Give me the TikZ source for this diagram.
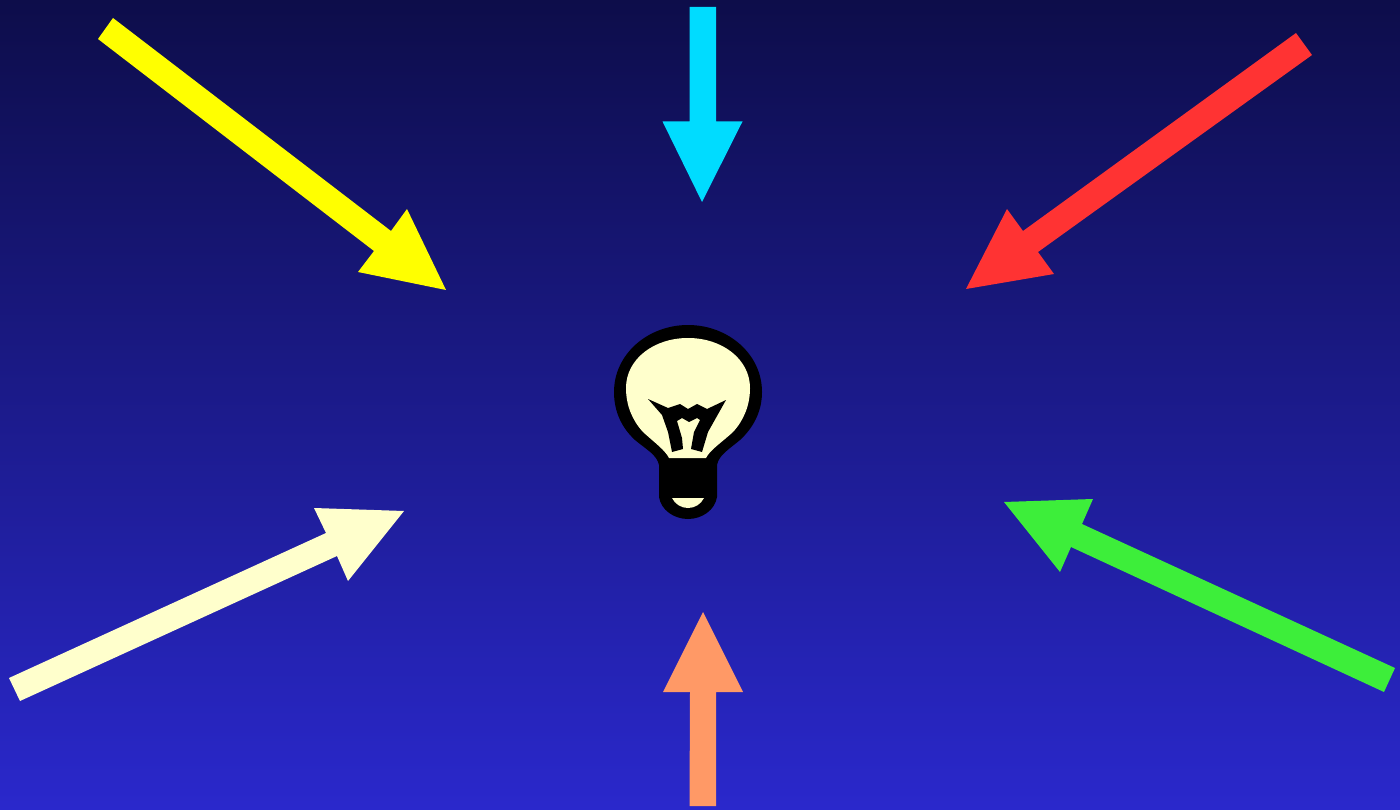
\documentclass[tikz,border=0pt]{standalone}
\definecolor{bgtop}{HTML}{0D0D4A}
\definecolor{bgbot}{HTML}{2A28CC}
\definecolor{cream}{HTML}{FFFFCC}
\definecolor{acyan}{HTML}{00DCFF}
\definecolor{ared}{HTML}{FF3333}
\definecolor{agreen}{HTML}{3DEE3A}
\definecolor{aorange}{HTML}{FF9966}
\definecolor{ayellow}{HTML}{FFFF00}
\begin{document}
\begin{tikzpicture}[x=1pt,y=-1pt]
\useasboundingbox (0,0) rectangle (1400,810);
\shade[top color=bgtop,bottom color=bgbot] (0,0) rectangle (1400,810);
% arrows
\fill[ayellow] (113,18) -- (391,231) -- (407,209) -- (446,290) -- (358,272) -- (374,251) -- (98,39) -- cycle;
\fill[acyan] (689.5,7) -- (716,7) -- (716,121.5) -- (742.5,121.5) -- (702,202) -- (662.5,121.5) -- (689.5,121.5) -- cycle;
\fill[ared] (1296,33) -- (1312,55) -- (1038,252) -- (1054,274) -- (966,289) -- (1007,209) -- (1023,231) -- cycle;
\fill[cream] (9,678) -- (326,533) -- (314,508) -- (404,511) -- (348,581) -- (337,556) -- (20,701) -- cycle;
\fill[agreen] (1395,668) -- (1082,524) -- (1093,499) -- (1004,502) -- (1060,572) -- (1071,547) -- (1384,692) -- cycle;
\fill[aorange] (689.5,806) -- (716,806) -- (716,692) -- (743,692) -- (703,612) -- (663,692) -- (690,692) -- cycle;
% bulb
\fill[black] (659,497) -- (659,465) .. controls (657,455) and (647,450) .. (635,440)
  .. controls (622,428) and (614,412) .. (614,392)
  .. controls (614,354) and (648,325) .. (688,325)
  .. controls (728,325) and (762,354) .. (762,392)
  .. controls (762,412) and (753,428) .. (740,440)
  .. controls (728,450) and (719,455) .. (717,465)
  -- (717,497) .. controls (715,510) and (702,519) .. (688,519)
  .. controls (674,519) and (661,510) .. (659,497) -- cycle;
\fill[cream] (669,458) .. controls (665,450) and (655,443) .. (643,432)
  .. controls (632,420) and (626,405) .. (626,388)
  .. controls (626,359) and (654,338) .. (688,338)
  .. controls (722,338) and (750,359) .. (750,388)
  .. controls (750,405) and (744,420) .. (733,432)
  .. controls (721,443) and (710,450) .. (706,458) -- cycle;
\fill[black] (648,399) -- (668,408) -- (680,404) -- (688,409) -- (697,404) -- (707,409) -- (726,400)
  -- (708,432) -- (702,452) -- (691,449) -- (694,432) -- (700,420) -- (697,418) -- (689,422)
  -- (682,418) -- (677,421) -- (682,438) -- (683,449) -- (672,452) -- (668,432) -- (662,415) -- cycle;
\fill[cream] (672,498) -- (704,498) .. controls (701,504) and (695,508) .. (688,508)
  .. controls (681,508) and (675,504) .. (672,498) -- cycle;
\end{tikzpicture}
\end{document}
